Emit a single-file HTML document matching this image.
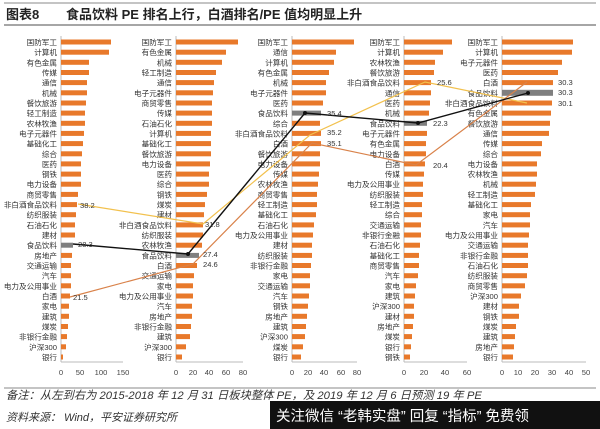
<!DOCTYPE html>
<html><head><meta charset="utf-8"><style>
body{margin:0;width:600px;height:429px;background:#fff;overflow:hidden;font-family:"Liberation Sans","Noto Sans CJK SC",sans-serif}
svg{position:absolute;left:0;top:0}
.l{font-size:7.6px;fill:#333;text-anchor:end}
.t{font-size:7.6px;fill:#444;text-anchor:middle}
.v{font-size:7.6px;fill:#333}
rect.b{fill:#E8792B}
</style></head><body>
<svg width="600" height="429" viewBox="0 0 600 429" font-family="Liberation Sans, Noto Sans CJK SC, sans-serif">
<line x1="4" y1="3" x2="596" y2="3" stroke="#888" stroke-width="1"/>
<text x="6" y="19" font-size="13" font-weight="bold" fill="#222">图表8</text>
<text x="66" y="19" font-size="13" font-weight="bold" fill="#222">食品饮料 PE 排名上行，白酒排名/PE 值均明显上升</text>
<line x1="4" y1="25" x2="596" y2="25" stroke="#888" stroke-width="1.5"/>

<g stroke="#bbb" stroke-width="1">
<line x1="61" y1="36" x2="61" y2="362"/><line x1="176" y1="36" x2="176" y2="362"/><line x1="292" y1="36" x2="292" y2="362"/><line x1="404" y1="36" x2="404" y2="362"/><line x1="502" y1="36" x2="502" y2="362"/>
<line x1="61" y1="362" x2="123" y2="362"/><line x1="176" y1="362" x2="243" y2="362"/><line x1="292" y1="362" x2="357" y2="362"/><line x1="404" y1="362" x2="467" y2="362"/><line x1="502" y1="362" x2="586" y2="362"/>
</g>

<g>
<rect class="b" x="61" y="39.5" width="50" height="5"/><rect class="b" x="61" y="49.7" width="48" height="5"/><rect class="b" x="61" y="59.8" width="28" height="5"/><rect class="b" x="61" y="70" width="28" height="5"/><rect class="b" x="61" y="80.1" width="26" height="5"/><rect class="b" x="61" y="90.3" width="26" height="5"/><rect class="b" x="61" y="100.5" width="25" height="5"/><rect class="b" x="61" y="110.6" width="24" height="5"/><rect class="b" x="61" y="120.8" width="24" height="5"/><rect class="b" x="61" y="130.9" width="23" height="5"/><rect class="b" x="61" y="141.1" width="22" height="5"/><rect class="b" x="61" y="151.3" width="21" height="5"/><rect class="b" x="61" y="161.4" width="20" height="5"/><rect class="b" x="61" y="171.6" width="20" height="5"/><rect class="b" x="61" y="181.7" width="20" height="5"/><rect class="b" x="61" y="191.9" width="17" height="5"/><rect class="b" x="61" y="202.1" width="16" height="5"/><rect class="b" x="61" y="212.2" width="15" height="5"/><rect class="b" x="61" y="222.4" width="14" height="5"/><rect class="b" x="61" y="232.5" width="14" height="5"/><rect fill="#7f7f7f" x="61" y="242.7" width="12" height="5"/><rect class="b" x="61" y="252.9" width="11" height="5"/><rect class="b" x="61" y="263" width="10" height="5"/><rect class="b" x="61" y="273.2" width="10" height="5"/><rect class="b" x="61" y="283.3" width="10" height="5"/><rect class="b" x="61" y="293.5" width="9" height="5"/><rect class="b" x="61" y="303.7" width="8" height="5"/><rect class="b" x="61" y="313.8" width="8" height="5"/><rect class="b" x="61" y="324" width="7" height="5"/><rect class="b" x="61" y="334.1" width="6" height="5"/><rect class="b" x="61" y="344.3" width="5" height="5"/><rect class="b" x="61" y="354.5" width="2" height="5"/>
<text class="l" x="57" y="45">国防军工</text><text class="l" x="57" y="55.2">计算机</text><text class="l" x="57" y="65.3">有色金属</text><text class="l" x="57" y="75.5">传媒</text><text class="l" x="57" y="85.6">通信</text><text class="l" x="57" y="95.8">机械</text><text class="l" x="57" y="106">餐饮旅游</text><text class="l" x="57" y="116.1">轻工制造</text><text class="l" x="57" y="126.3">农林牧渔</text><text class="l" x="57" y="136.4">电子元器件</text><text class="l" x="57" y="146.6">基础化工</text><text class="l" x="57" y="156.8">综合</text><text class="l" x="57" y="166.9">医药</text><text class="l" x="57" y="177.1">钢铁</text><text class="l" x="57" y="187.2">电力设备</text><text class="l" x="57" y="197.4">商贸零售</text><text class="l" x="57" y="207.6">非白酒食品饮料</text><text class="l" x="57" y="217.7">纺织服装</text><text class="l" x="57" y="227.9">石油石化</text><text class="l" x="57" y="238">建材</text><text class="l" x="57" y="248.2">食品饮料</text><text class="l" x="57" y="258.4">房地产</text><text class="l" x="57" y="268.5">交通运输</text><text class="l" x="57" y="278.7">汽车</text><text class="l" x="57" y="288.8">电力及公用事业</text><text class="l" x="57" y="299">白酒</text><text class="l" x="57" y="309.2">家电</text><text class="l" x="57" y="319.3">建筑</text><text class="l" x="57" y="329.5">煤炭</text><text class="l" x="57" y="339.6">非银行金融</text><text class="l" x="57" y="349.8">沪深300</text><text class="l" x="57" y="360">银行</text>
<text class="t" x="61" y="375">0</text><text class="t" x="80" y="375">50</text><text class="t" x="101" y="375">100</text><text class="t" x="123" y="375">150</text>
</g>

<g>
<rect class="b" x="176" y="39.5" width="62" height="5"/><rect class="b" x="176" y="49.7" width="50" height="5"/><rect class="b" x="176" y="59.8" width="46" height="5"/><rect class="b" x="176" y="70" width="40" height="5"/><rect class="b" x="176" y="80.1" width="38" height="5"/><rect class="b" x="176" y="90.3" width="37" height="5"/><rect class="b" x="176" y="100.5" width="36" height="5"/><rect class="b" x="176" y="110.6" width="36" height="5"/><rect class="b" x="176" y="120.8" width="36" height="5"/><rect class="b" x="176" y="130.9" width="35" height="5"/><rect class="b" x="176" y="141.1" width="35" height="5"/><rect class="b" x="176" y="151.3" width="35" height="5"/><rect class="b" x="176" y="161.4" width="34" height="5"/><rect class="b" x="176" y="171.6" width="33" height="5"/><rect class="b" x="176" y="181.7" width="33" height="5"/><rect class="b" x="176" y="191.9" width="31" height="5"/><rect class="b" x="176" y="202.1" width="29" height="5"/><rect class="b" x="176" y="212.2" width="28" height="5"/><rect class="b" x="176" y="222.4" width="27" height="5"/><rect class="b" x="176" y="232.5" width="27" height="5"/><rect class="b" x="176" y="242.7" width="26" height="5"/><rect fill="#7f7f7f" x="176" y="252.9" width="23" height="5"/><rect class="b" x="176" y="263" width="21" height="5"/><rect class="b" x="176" y="273.2" width="18" height="5"/><rect class="b" x="176" y="283.3" width="17" height="5"/><rect class="b" x="176" y="293.5" width="17" height="5"/><rect class="b" x="176" y="303.7" width="16" height="5"/><rect class="b" x="176" y="313.8" width="16" height="5"/><rect class="b" x="176" y="324" width="15" height="5"/><rect class="b" x="176" y="334.1" width="14" height="5"/><rect class="b" x="176" y="344.3" width="10" height="5"/><rect class="b" x="176" y="354.5" width="6" height="5"/>
<text class="l" x="172" y="45">国防军工</text><text class="l" x="172" y="55.2">有色金属</text><text class="l" x="172" y="65.3">机械</text><text class="l" x="172" y="75.5">轻工制造</text><text class="l" x="172" y="85.6">通信</text><text class="l" x="172" y="95.8">电子元器件</text><text class="l" x="172" y="106">商贸零售</text><text class="l" x="172" y="116.1">传媒</text><text class="l" x="172" y="126.3">石油石化</text><text class="l" x="172" y="136.4">计算机</text><text class="l" x="172" y="146.6">基础化工</text><text class="l" x="172" y="156.8">餐饮旅游</text><text class="l" x="172" y="166.9">电力设备</text><text class="l" x="172" y="177.1">医药</text><text class="l" x="172" y="187.2">综合</text><text class="l" x="172" y="197.4">钢铁</text><text class="l" x="172" y="207.6">煤炭</text><text class="l" x="172" y="217.7">建材</text><text class="l" x="172" y="227.9">非白酒食品饮料</text><text class="l" x="172" y="238">纺织服装</text><text class="l" x="172" y="248.2">农林牧渔</text><text class="l" x="172" y="258.4">食品饮料</text><text class="l" x="172" y="268.5">白酒</text><text class="l" x="172" y="278.7">交通运输</text><text class="l" x="172" y="288.8">家电</text><text class="l" x="172" y="299">电力及公用事业</text><text class="l" x="172" y="309.2">汽车</text><text class="l" x="172" y="319.3">房地产</text><text class="l" x="172" y="329.5">非银行金融</text><text class="l" x="172" y="339.6">建筑</text><text class="l" x="172" y="349.8">沪深300</text><text class="l" x="172" y="360">银行</text>
<text class="t" x="176" y="375">0</text><text class="t" x="193" y="375">20</text><text class="t" x="209" y="375">40</text><text class="t" x="226" y="375">60</text><text class="t" x="243" y="375">80</text>
</g>

<g>
<rect class="b" x="292" y="39.5" width="62" height="5"/><rect class="b" x="292" y="49.7" width="44" height="5"/><rect class="b" x="292" y="59.8" width="42" height="5"/><rect class="b" x="292" y="70" width="37" height="5"/><rect class="b" x="292" y="80.1" width="34" height="5"/><rect class="b" x="292" y="90.3" width="34" height="5"/><rect class="b" x="292" y="100.5" width="31" height="5"/><rect fill="#7f7f7f" x="292" y="110.6" width="29" height="5"/><rect class="b" x="292" y="120.8" width="28" height="5"/><rect class="b" x="292" y="130.9" width="29" height="5"/><rect class="b" x="292" y="141.1" width="29" height="5"/><rect class="b" x="292" y="151.3" width="28" height="5"/><rect class="b" x="292" y="161.4" width="28" height="5"/><rect class="b" x="292" y="171.6" width="27" height="5"/><rect class="b" x="292" y="181.7" width="26" height="5"/><rect class="b" x="292" y="191.9" width="25" height="5"/><rect class="b" x="292" y="202.1" width="25" height="5"/><rect class="b" x="292" y="212.2" width="24" height="5"/><rect class="b" x="292" y="222.4" width="22" height="5"/><rect class="b" x="292" y="232.5" width="21" height="5"/><rect class="b" x="292" y="242.7" width="20" height="5"/><rect class="b" x="292" y="252.9" width="20" height="5"/><rect class="b" x="292" y="263" width="19" height="5"/><rect class="b" x="292" y="273.2" width="18" height="5"/><rect class="b" x="292" y="283.3" width="18" height="5"/><rect class="b" x="292" y="293.5" width="17" height="5"/><rect class="b" x="292" y="303.7" width="16" height="5"/><rect class="b" x="292" y="313.8" width="15" height="5"/><rect class="b" x="292" y="324" width="14" height="5"/><rect class="b" x="292" y="334.1" width="13" height="5"/><rect class="b" x="292" y="344.3" width="11" height="5"/><rect class="b" x="292" y="354.5" width="9" height="5"/>
<text class="l" x="288" y="45">国防军工</text><text class="l" x="288" y="55.2">通信</text><text class="l" x="288" y="65.3">计算机</text><text class="l" x="288" y="75.5">有色金属</text><text class="l" x="288" y="85.6">机械</text><text class="l" x="288" y="95.8">电子元器件</text><text class="l" x="288" y="106">医药</text><text class="l" x="288" y="116.1">食品饮料</text><text class="l" x="288" y="126.3">综合</text><text class="l" x="288" y="136.4">非白酒食品饮料</text><text class="l" x="288" y="146.6">白酒</text><text class="l" x="288" y="156.8">餐饮旅游</text><text class="l" x="288" y="166.9">电力设备</text><text class="l" x="288" y="177.1">传媒</text><text class="l" x="288" y="187.2">农林牧渔</text><text class="l" x="288" y="197.4">商贸零售</text><text class="l" x="288" y="207.6">轻工制造</text><text class="l" x="288" y="217.7">基础化工</text><text class="l" x="288" y="227.9">石油石化</text><text class="l" x="288" y="238">电力及公用事业</text><text class="l" x="288" y="248.2">建材</text><text class="l" x="288" y="258.4">纺织服装</text><text class="l" x="288" y="268.5">非银行金融</text><text class="l" x="288" y="278.7">家电</text><text class="l" x="288" y="288.8">交通运输</text><text class="l" x="288" y="299">汽车</text><text class="l" x="288" y="309.2">钢铁</text><text class="l" x="288" y="319.3">房地产</text><text class="l" x="288" y="329.5">建筑</text><text class="l" x="288" y="339.6">沪深300</text><text class="l" x="288" y="349.8">煤炭</text><text class="l" x="288" y="360">银行</text>
<text class="t" x="292" y="375">0</text><text class="t" x="308" y="375">20</text><text class="t" x="324" y="375">40</text><text class="t" x="341" y="375">60</text><text class="t" x="357" y="375">80</text>
</g>

<g>
<rect class="b" x="404" y="39.5" width="48" height="5"/><rect class="b" x="404" y="49.7" width="39" height="5"/><rect class="b" x="404" y="59.8" width="31" height="5"/><rect class="b" x="404" y="70" width="30" height="5"/><rect class="b" x="404" y="80.1" width="27" height="5"/><rect class="b" x="404" y="90.3" width="27" height="5"/><rect class="b" x="404" y="100.5" width="26" height="5"/><rect class="b" x="404" y="110.6" width="25" height="5"/><rect fill="#7f7f7f" x="404" y="120.8" width="23" height="5"/><rect class="b" x="404" y="130.9" width="23" height="5"/><rect class="b" x="404" y="141.1" width="22" height="5"/><rect class="b" x="404" y="151.3" width="22" height="5"/><rect class="b" x="404" y="161.4" width="21" height="5"/><rect class="b" x="404" y="171.6" width="20" height="5"/><rect class="b" x="404" y="181.7" width="19" height="5"/><rect class="b" x="404" y="191.9" width="19" height="5"/><rect class="b" x="404" y="202.1" width="18" height="5"/><rect class="b" x="404" y="212.2" width="18" height="5"/><rect class="b" x="404" y="222.4" width="17" height="5"/><rect class="b" x="404" y="232.5" width="17" height="5"/><rect class="b" x="404" y="242.7" width="16" height="5"/><rect class="b" x="404" y="252.9" width="15" height="5"/><rect class="b" x="404" y="263" width="15" height="5"/><rect class="b" x="404" y="273.2" width="14" height="5"/><rect class="b" x="404" y="283.3" width="12" height="5"/><rect class="b" x="404" y="293.5" width="11" height="5"/><rect class="b" x="404" y="303.7" width="10" height="5"/><rect class="b" x="404" y="313.8" width="10" height="5"/><rect class="b" x="404" y="324" width="9" height="5"/><rect class="b" x="404" y="334.1" width="8" height="5"/><rect class="b" x="404" y="344.3" width="7" height="5"/><rect class="b" x="404" y="354.5" width="6" height="5"/>
<text class="l" x="400" y="45">国防军工</text><text class="l" x="400" y="55.2">计算机</text><text class="l" x="400" y="65.3">农林牧渔</text><text class="l" x="400" y="75.5">餐饮旅游</text><text class="l" x="400" y="85.6">非白酒食品饮料</text><text class="l" x="400" y="95.8">通信</text><text class="l" x="400" y="106">医药</text><text class="l" x="400" y="116.1">机械</text><text class="l" x="400" y="126.3">食品饮料</text><text class="l" x="400" y="136.4">电子元器件</text><text class="l" x="400" y="146.6">有色金属</text><text class="l" x="400" y="156.8">电力设备</text><text class="l" x="400" y="166.9">白酒</text><text class="l" x="400" y="177.1">传媒</text><text class="l" x="400" y="187.2">电力及公用事业</text><text class="l" x="400" y="197.4">纺织服装</text><text class="l" x="400" y="207.6">轻工制造</text><text class="l" x="400" y="217.7">综合</text><text class="l" x="400" y="227.9">交通运输</text><text class="l" x="400" y="238">非银行金融</text><text class="l" x="400" y="248.2">石油石化</text><text class="l" x="400" y="258.4">基础化工</text><text class="l" x="400" y="268.5">商贸零售</text><text class="l" x="400" y="278.7">汽车</text><text class="l" x="400" y="288.8">家电</text><text class="l" x="400" y="299">建筑</text><text class="l" x="400" y="309.2">沪深300</text><text class="l" x="400" y="319.3">建材</text><text class="l" x="400" y="329.5">房地产</text><text class="l" x="400" y="339.6">煤炭</text><text class="l" x="400" y="349.8">银行</text><text class="l" x="400" y="360">钢铁</text>
<text class="t" x="404" y="375">0</text><text class="t" x="424" y="375">20</text><text class="t" x="445" y="375">40</text><text class="t" x="467" y="375">60</text>
</g>

<g>
<rect class="b" x="502" y="39.5" width="71" height="5"/><rect class="b" x="502" y="49.7" width="70" height="5"/><rect class="b" x="502" y="59.8" width="60" height="5"/><rect class="b" x="502" y="70" width="56" height="5"/><rect class="b" x="502" y="80.1" width="51" height="5"/><rect fill="#7f7f7f" x="502" y="89.8" width="51" height="6"/><rect class="b" x="502" y="100.5" width="50" height="5"/><rect class="b" x="502" y="110.6" width="49" height="5"/><rect class="b" x="502" y="120.8" width="48" height="5"/><rect class="b" x="502" y="130.9" width="47" height="5"/><rect class="b" x="502" y="141.1" width="40" height="5"/><rect class="b" x="502" y="151.3" width="39" height="5"/><rect class="b" x="502" y="161.4" width="35" height="5"/><rect class="b" x="502" y="171.6" width="35" height="5"/><rect class="b" x="502" y="181.7" width="34" height="5"/><rect class="b" x="502" y="191.9" width="33" height="5"/><rect class="b" x="502" y="202.1" width="29" height="5"/><rect class="b" x="502" y="212.2" width="28" height="5"/><rect class="b" x="502" y="222.4" width="28" height="5"/><rect class="b" x="502" y="232.5" width="27" height="5"/><rect class="b" x="502" y="242.7" width="26" height="5"/><rect class="b" x="502" y="252.9" width="26" height="5"/><rect class="b" x="502" y="263" width="26" height="5"/><rect class="b" x="502" y="273.2" width="25" height="5"/><rect class="b" x="502" y="283.3" width="23" height="5"/><rect class="b" x="502" y="293.5" width="19" height="5"/><rect class="b" x="502" y="303.7" width="17" height="5"/><rect class="b" x="502" y="313.8" width="17" height="5"/><rect class="b" x="502" y="324" width="14" height="5"/><rect class="b" x="502" y="334.1" width="13" height="5"/><rect class="b" x="502" y="344.3" width="12" height="5"/><rect class="b" x="502" y="354.5" width="11" height="5"/>
<text class="l" x="498" y="45">国防军工</text><text class="l" x="498" y="55.2">计算机</text><text class="l" x="498" y="65.3">电子元器件</text><text class="l" x="498" y="75.5">医药</text><text class="l" x="498" y="85.6">白酒</text><text class="l" x="498" y="95.8">食品饮料</text><text class="l" x="498" y="106">非白酒食品饮料</text><text class="l" x="498" y="116.1">有色金属</text><text class="l" x="498" y="126.3">餐饮旅游</text><text class="l" x="498" y="136.4">通信</text><text class="l" x="498" y="146.6">传媒</text><text class="l" x="498" y="156.8">综合</text><text class="l" x="498" y="166.9">电力设备</text><text class="l" x="498" y="177.1">农林牧渔</text><text class="l" x="498" y="187.2">机械</text><text class="l" x="498" y="197.4">轻工制造</text><text class="l" x="498" y="207.6">基础化工</text><text class="l" x="498" y="217.7">家电</text><text class="l" x="498" y="227.9">汽车</text><text class="l" x="498" y="238">电力及公用事业</text><text class="l" x="498" y="248.2">交通运输</text><text class="l" x="498" y="258.4">非银行金融</text><text class="l" x="498" y="268.5">石油石化</text><text class="l" x="498" y="278.7">纺织服装</text><text class="l" x="498" y="288.8">商贸零售</text><text class="l" x="498" y="299">沪深300</text><text class="l" x="498" y="309.2">建材</text><text class="l" x="498" y="319.3">钢铁</text><text class="l" x="498" y="329.5">煤炭</text><text class="l" x="498" y="339.6">建筑</text><text class="l" x="498" y="349.8">房地产</text><text class="l" x="498" y="360">银行</text>
<text class="t" x="502" y="375">0</text><text class="t" x="518" y="375">10</text><text class="t" x="535" y="375">20</text><text class="t" x="552" y="375">30</text><text class="t" x="569" y="375">40</text><text class="t" x="586" y="375">50</text>
</g>

<polyline points="78,204 203,224 310,135 425,82 527,103" fill="none" stroke="#F2C14E" stroke-width="1.2"/>
<polyline points="70,297 193,264 312,143 416,165 527,82" fill="none" stroke="#D9824A" stroke-width="1.2"/>
<polyline points="73,244 188,254 305,113 418,123 528,93" fill="none" stroke="#111" stroke-width="1.4"/>
<g fill="#111"><circle cx="188" cy="254" r="2"/><circle cx="305" cy="113" r="2"/><circle cx="418" cy="123" r="2"/><circle cx="528" cy="93" r="2"/></g>
<text class="v" x="80" y="208">38.2</text><text class="v" x="205" y="227">31.8</text><text class="v" x="327" y="116">35.4</text><text class="v" x="327" y="135">35.2</text><text class="v" x="327" y="146">35.1</text>
<text class="v" x="437" y="85">25.6</text><text class="v" x="433" y="126">22.3</text><text class="v" x="433" y="168">20.4</text>
<text class="v" x="558" y="85">30.3</text><text class="v" x="558" y="95">30.3</text><text class="v" x="558" y="106">30.1</text>
<text class="v" x="78" y="247">28.3</text><text class="v" x="203" y="257">27.4</text><text class="v" x="203" y="267">24.6</text><text class="v" x="73" y="300">21.5</text>

<line x1="4" y1="388" x2="596" y2="388" stroke="#888" stroke-width="1"/>
<text x="6" y="399" font-size="11.3" font-style="italic" fill="#333">备注：从左到右为 2015-2018 年 12 月 31 日板块整体 PE，及 2019 年 12 月 6 日预测 19 年 PE</text>
<text x="6" y="421" font-size="11" font-style="italic" fill="#333">资料来源： Wind，平安证券研究所</text>
<rect x="270" y="401" width="330" height="28" fill="#111"/>
<text x="276" y="421" font-size="14.5" fill="#fff">关注微信 “老韩实盘” 回复 “指标” 免费领</text>
</svg>
</body></html>
